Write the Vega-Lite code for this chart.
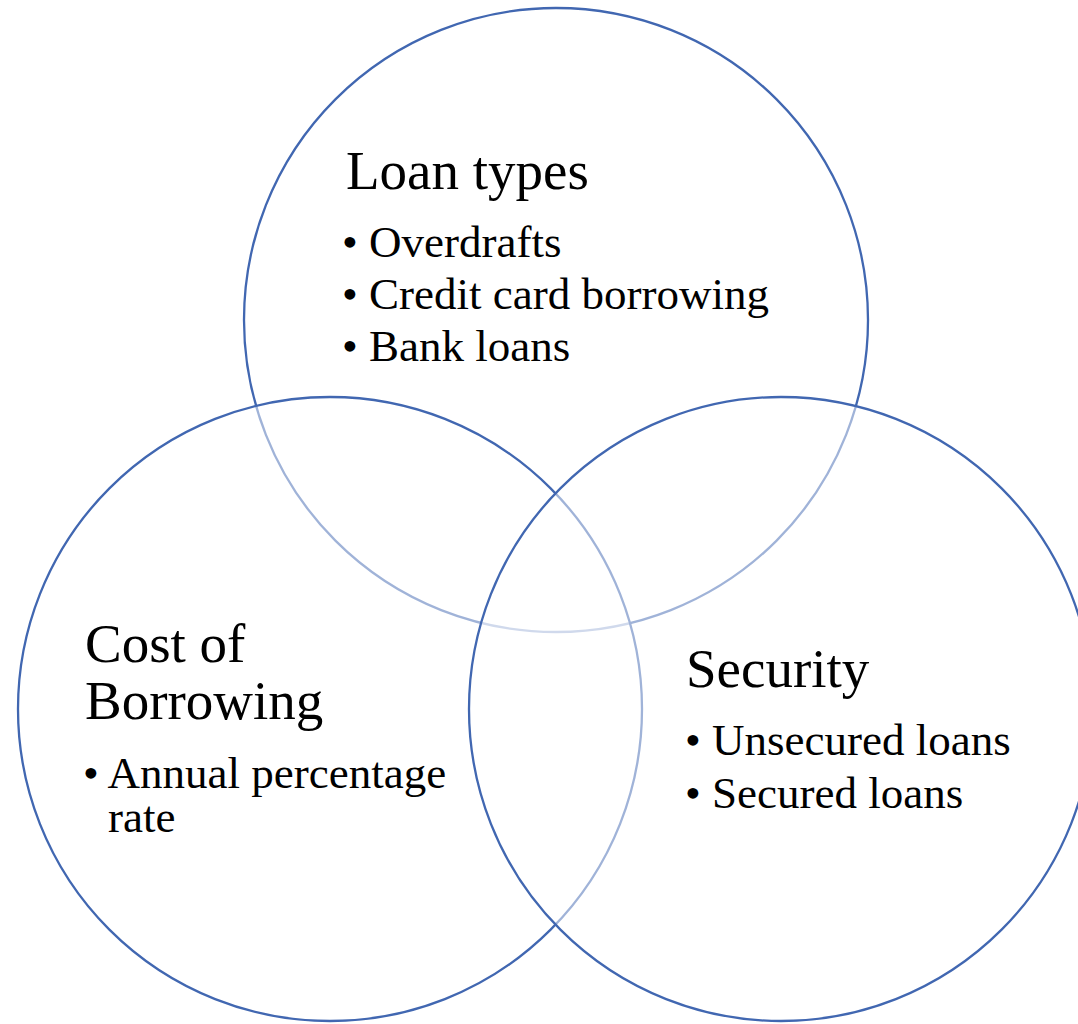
{
  "$schema": "https://vega.github.io/schema/vega-lite/v6.json",
  "width": 1078,
  "height": 1024,
  "padding": 0,
  "autosize": {"type": "none"},
  "background": "white",
  "config": {"view": {"stroke": null}},
  "datasets": {
    "circles": [
      {"name": "Loan types", "cx": 556, "cy": 320, "order": 1},
      {"name": "Cost of Borrowing", "cx": 330, "cy": 709, "order": 2},
      {"name": "Security", "cx": 781, "cy": 709, "order": 3}
    ],
    "labels": [
      {"text": "Loan types", "x": 346, "y": 189, "role": "title"},
      {"text": "• Overdrafts", "x": 342, "y": 257, "role": "item"},
      {"text": "• Credit card borrowing", "x": 342, "y": 309, "role": "item"},
      {"text": "• Bank loans", "x": 342, "y": 361, "role": "item"},
      {"text": "Cost of", "x": 85, "y": 662, "role": "title"},
      {"text": "Borrowing", "x": 85, "y": 719, "role": "title"},
      {"text": "• Annual percentage", "x": 83, "y": 788, "role": "item"},
      {"text": "rate", "x": 108, "y": 832, "role": "item"},
      {"text": "Security", "x": 686, "y": 687, "role": "title"},
      {"text": "• Unsecured loans", "x": 685, "y": 755, "role": "item"},
      {"text": "• Secured loans", "x": 685, "y": 808, "role": "item"}
    ]
  },
  "layer": [
    {
      "data": {"name": "circles"},
      "mark": {"type": "point", "shape": "circle", "size": 389376, "filled": false, "fill": "white", "fillOpacity": 0.5, "stroke": "#4167B1", "strokeWidth": 2.3, "opacity": 1},
      "encoding": {
        "x": {"field": "cx", "type": "quantitative", "scale": {"domain": [0, 1078], "nice": false, "zero": false}, "axis": null},
        "y": {"field": "cy", "type": "quantitative", "scale": {"domain": [0, 1024], "nice": false, "zero": false, "reverse": true}, "axis": null},
        "order": {"field": "order", "type": "quantitative"}
      }
    },
    {
      "data": {"name": "labels"},
      "transform": [{"filter": "datum.role === 'title'"}],
      "mark": {"type": "text", "align": "left", "baseline": "alphabetic", "font": "Liberation Serif", "fontSize": 55, "color": "black"},
      "encoding": {
        "x": {"field": "x", "type": "quantitative"},
        "y": {"field": "y", "type": "quantitative"},
        "text": {"field": "text"}
      }
    },
    {
      "data": {"name": "labels"},
      "transform": [{"filter": "datum.role === 'item'"}],
      "mark": {"type": "text", "align": "left", "baseline": "alphabetic", "font": "Liberation Serif", "fontSize": 45, "color": "black"},
      "encoding": {
        "x": {"field": "x", "type": "quantitative"},
        "y": {"field": "y", "type": "quantitative"},
        "text": {"field": "text"}
      }
    }
  ]
}
